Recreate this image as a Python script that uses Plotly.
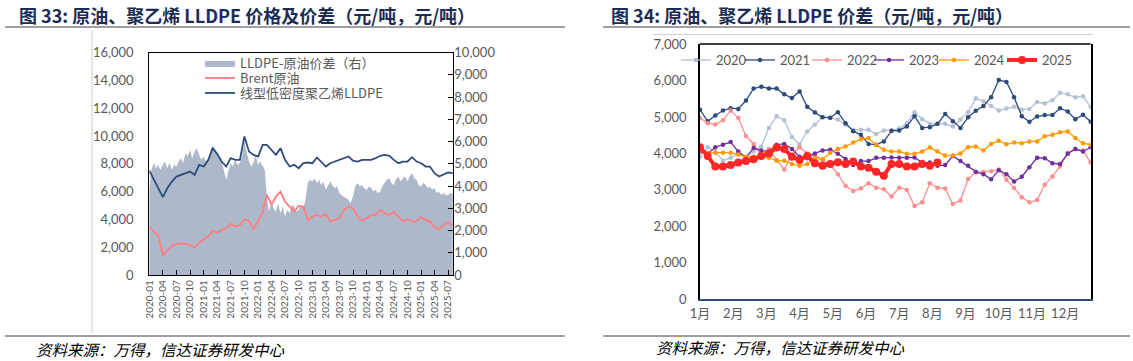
import pandas as pd
import plotly.graph_objects as go

# ---------------- Left chart data ----------------
# monthly price lines, 2020-01 .. 2025-08
months = pd.date_range("2020-01-01", "2025-08-01", freq="MS").strftime("%Y-%m-%d").tolist()

lldpe = [7500, 6840, 6300, 5600, 6240, 6720, 7080, 7200, 7320, 7440, 7200, 7920,
         7800, 8280, 9120, 8710, 8160, 7800, 8400, 8280, 8280, 9960, 8880, 8640,
         8520, 9360, 9360, 9000, 8640, 9120, 8280, 7800, 7920, 7680, 8040, 8090,
         8040, 8450, 8160, 7800, 8040, 8160, 8280, 8400, 8520, 8230, 8160, 8280,
         8280, 8280, 8400, 8570, 8640, 8570, 8280, 8040, 8160, 8160, 8470, 8160,
         8040, 7800, 7800, 7320, 7080, 7200, 7370, 7320]

brent = [3480, 3120, 2880, 1400, 1800, 2090, 2230, 2280, 2280, 2160, 1990, 2280,
         2570, 2760, 3170, 3050, 3240, 3360, 3670, 3480, 3600, 4010, 3910, 3290,
         3840, 4490, 5760, 5040, 5640, 6000, 5280, 4920, 4560, 4970, 4920, 3960,
         4200, 4320, 4200, 4370, 3840, 3960, 4080, 4680, 4920, 4800, 4200, 3910,
         4080, 4320, 4320, 4680, 4440, 4320, 4560, 4200, 3840, 4010, 3840, 3890,
         4150, 3960, 3840, 3430, 3290, 3600, 3840, 3530]

# half-monthly spread (1st and 15th of each month), 2020-01-01 .. 2025-08-01
half_months = sorted(
    [d for d in pd.date_range("2020-01-01", "2025-08-01", freq="MS")] +
    [d + pd.Timedelta(days=14) for d in pd.date_range("2020-01-01", "2025-07-01", freq="MS")])
half_months = [d.strftime("%Y-%m-%d") for d in half_months]

spread = [3830, 4730, 5030, 4800, 4950, 4730, 4950, 5100, 4800, 5030, 4730, 4950,
          4880, 5100, 5250, 5030, 5480, 5330, 5630, 5250, 5550, 5700, 5400, 5180,
          5330, 5100, 5250, 5550, 5850, 5700, 5400, 5330, 5100, 4730, 4280, 4650,
          5030, 4880, 5180, 4950, 5030, 5330, 6000, 5550, 5100, 4880, 5030, 5400,
          4950, 5100, 4880, 4730, 3530, 2850, 3300, 3000, 2850, 3230, 2780, 3080,
          2630, 2930, 2780, 3150, 3080, 2850, 2930, 3150, 3000, 3380, 4130, 4280,
          4200, 4350, 4130, 4280, 4050, 4200, 3830, 3980, 4200, 4050, 3900, 3980,
          3680, 3600, 3530, 3450, 3380, 3230, 3530, 3980, 4130, 3980, 4050, 3900,
          3830, 3980, 3900, 3750, 3830, 3680, 3750, 3980, 4130, 4280, 4350, 4130,
          4050, 4280, 4430, 4200, 4350, 4430, 4200, 4430, 4580, 4350, 4280, 4050,
          3980, 4130, 4050, 3900, 3980, 3830, 3900, 3680, 3750, 3600, 3680, 3600,
          3600, 3680, 3650]

# ---------------- Right chart data (weekly index within year) ----------------
month_labels = ["1月", "2月", "3月", "4月", "5月", "6月", "7月", "8月", "9月", "10月", "11月", "12月"]
weeks_per_year = 52

y2020 = [3910, 4170, 4050, 3800, 3880, 4000, 3910, 4050, 4190, 4700, 5020, 4910, 4450,
         4250, 4600, 4790, 5000, 4980, 4930, 4790, 4650, 4650, 4650, 4530, 4630, 4630,
         4680, 4830, 5130, 4940, 4810, 4810, 4810, 4740, 4930, 5130, 5510, 5430, 5300,
         5180, 5230, 5280, 5200, 5220, 5410, 5370, 5460, 5660, 5620, 5540, 5570, 5270]
y2021 = [5200, 4880, 5040, 5175, 5240, 5220, 5450, 5780, 5830, 5780, 5780, 5620, 5520,
         5700, 5280, 5120, 4990, 4980, 5130, 4830, 4610, 4510, 4260, 4240, 4330, 4620,
         4630, 4740, 5020, 4700, 4720, 4810, 5080, 4880, 4700, 4990, 5170, 5300, 5540,
         6010, 5960, 5540, 5020, 4870, 5010, 5050, 5050, 5240, 5150, 4940, 5060, 4870]
y2022 = [4970, 4830, 4790, 4910, 5180, 4970, 4480, 4260, 3910, 4120, 3820, 3560, 3970,
         4170, 4000, 3960, 3820, 3680, 3430, 3110, 2970, 3040, 3180, 3060, 3020, 2820,
         3060, 3000, 2560, 2660, 3180, 3060, 3040, 2610, 2710, 3300, 3480, 3500, 3510,
         3560, 3280, 3050, 2800, 2660, 2720, 3140, 3370, 3640, 4020, 4120, 4080, 3750]
y2023 = [4050, 4000, 4170, 4240, 4310, 4050, 3890, 4150, 4080, 4050, 4240, 4260, 4120,
         3910, 3870, 4000, 4080, 4100, 3990, 3850, 3680, 3790, 3790, 3880, 3880, 3890,
         3880, 3880, 3890, 3750, 3750, 3660, 3680, 3930, 3790, 3660, 3500, 3430, 3290,
         3540, 3430, 3230, 3360, 3620, 3880, 3870, 3730, 3710, 3990, 4120, 4050, 4170]
y2024 = [4080, 4020, 4020, 4020, 4020, 3970, 3910, 3910, 3910, 3880, 3800, 3800, 3710,
         3660, 3710, 3870, 3840, 4020, 4120, 4190, 4300, 4390, 4420, 4240, 4100, 4050,
         4050, 3990, 3990, 4050, 4160, 4050, 3940, 3940, 4000, 4170, 4190, 4080, 4260,
         4350, 4250, 4300, 4280, 4330, 4330, 4470, 4510, 4580, 4600, 4420, 4280, 4240]
y2025 = [4170, 3930, 3640, 3640, 3680, 3750, 3790, 3840, 3930, 4000, 4160, 4120, 3910,
         3820, 3930, 3730, 3660, 3710, 3760, 3710, 3780, 3640, 3610, 3500, 3390, 3710,
         3710, 3640, 3640, 3710, 3660, 3750]

years = ["2020", "2021", "2022", "2023", "2024", "2025"]
year_values = [y2020, y2021, y2022, y2023, y2024, y2025]
year_colors = ["#b4c0d3", "#2f4b7c", "#ff8f8f", "#7030a0", "#ff9900", "#ff2626"]

# ---------------- Figure ----------------
W, H = 1133, 361
def px(x):
    return x / W
def py(y):
    return (H - y) / H

FONT = "Lato, 'Noto Sans CJK SC', sans-serif"
CJK = "'Noto Sans CJK SC', sans-serif"
GREY = "#595959"
NAVY_T = "#1c2d55"

fig = go.Figure()

fig.add_trace(go.Scatter(x=half_months, y=spread, name="LLDPE-原油价差（右）", mode="lines",
                         line=dict(width=0, color="#adb9ca"), fill="tozeroy",
                         fillcolor="#adb9ca", xaxis="x", yaxis="y", legend="legend"))
fig.add_trace(go.Scatter(x=months, y=brent, name="Brent原油", mode="lines",
                         line=dict(width=1.8, color="#ff7c80"), xaxis="x", yaxis="y2",
                         legend="legend3"))
fig.add_trace(go.Scatter(x=months, y=lldpe, name="线型低密度聚乙烯LLDPE", mode="lines",
                         line=dict(width=1.8, color="#2f4b7c"), xaxis="x", yaxis="y2",
                         legend="legend4"))

year_legends = ["legend2", "legend5", "legend6", "legend7", "legend8", "legend9"]
for yr, vals, col, lg in zip(years, year_values, year_colors, year_legends):
    big = yr == "2025"
    fig.add_trace(go.Scatter(x=list(range(len(vals))), y=vals, name=yr, mode="lines+markers",
                             line=dict(width=4 if big else 1.3, color=col),
                             marker=dict(size=8 if big else 4.5, color=col),
                             xaxis="x2", yaxis="y3", legend=lg))

month_pos = [i * weeks_per_year / 12 for i in range(12)]

def leg(x, y, size=13, family=CJK, **kw):
    d = dict(x=px(x), y=py(y), xref="container", yref="container", xanchor="left",
             yanchor="top", bgcolor="rgba(0,0,0,0)", borderwidth=0,
             font=dict(family=family, size=size, color=GREY), itemwidth=30)
    d.update(kw)
    return d

legend_layout = dict(
    legend=leg(200, 48),
    legend3=leg(200, 63),
    legend4=leg(200, 78),
)
for lg, lx in zip(year_legends, [676, 740, 807, 869, 934, 1002]):
    legend_layout[lg] = leg(lx, 45, size=13, family=FONT)

fig.update_layout(
    width=W, height=H, margin=dict(l=0, r=0, t=0, b=0, autoexpand=False),
    paper_bgcolor="white", plot_bgcolor="white",
    font=dict(family=FONT, size=12, color=GREY),
    showlegend=True,
    xaxis=dict(domain=[px(149.3), px(453.3)], range=["2020-01-01", "2025-08-05"], type="date",
               tickformat="%Y-%m", dtick="M3", tick0="2020-01-01", tickangle=-90,
               ticks="inside", ticklen=5, tickcolor="black", showline=True, linecolor="black",
               linewidth=1.2, mirror=True, showgrid=False, zeroline=False, automargin=False,
               tickfont=dict(size=10, color=GREY), anchor="y"),
    yaxis=dict(domain=[py(275), py(52.5)], range=[0, 10000], dtick=1000, tickformat=",",
               side="right", anchor="x", showgrid=False, zeroline=False, ticks="inside",
               ticklen=5, tickcolor="black", showline=False, automargin=False,
               tickfont=dict(size=13, color=GREY)),
    yaxis2=dict(range=[0, 16000], dtick=2000, tickformat=",", overlaying="y", side="left",
                anchor="x", showgrid=False, zeroline=False, showline=True, linecolor="black",
                linewidth=1.2, mirror=True, ticks="", automargin=False,
                tickfont=dict(size=13, color=GREY), ticklabelstandoff=12),
    xaxis2=dict(domain=[px(700), px(1090.7)], range=[0, 51], tickvals=month_pos,
                ticktext=month_labels, showgrid=False, zeroline=False, showline=True,
                linecolor="#2f4b7c", linewidth=2, ticks="", anchor="y3", automargin=False,
                tickfont=dict(size=13, color=GREY), ticklabelstandoff=1),
    yaxis3=dict(domain=[py(299.3), py(44)], range=[0, 7000], dtick=1000, tickformat=",",
                showgrid=False, zeroline=False, showline=True, linecolor="black", linewidth=1.5,
                mirror=True, ticks="", anchor="x2", automargin=False,
                tickfont=dict(size=13, color=GREY), ticklabelstandoff=9),
    **legend_layout,
)

shapes = [
    dict(type="line", xref="paper", yref="paper", x0=px(700), x1=px(1090.7), y0=py(44), y1=py(44),
         line=dict(color="black", width=1.5)),
    dict(type="line", xref="paper", yref="paper", x0=px(5), x1=px(565), y0=py(27), y1=py(27),
         line=dict(color="#404040", width=1)),
    dict(type="line", xref="paper", yref="paper", x0=px(603), x1=px(1130), y0=py(27), y1=py(27),
         line=dict(color="#404040", width=1)),
    dict(type="line", xref="paper", yref="paper", x0=px(5), x1=px(565), y0=py(336), y1=py(336),
         line=dict(color="#404040", width=1)),
    dict(type="line", xref="paper", yref="paper", x0=px(603), x1=px(1130), y0=py(336), y1=py(336),
         line=dict(color="#404040", width=1)),
    dict(type="line", xref="paper", yref="paper", x0=px(92), x1=px(92), y0=py(30), y1=py(333),
         line=dict(color="#d0d0d0", width=1)),
    dict(type="line", xref="paper", yref="paper", x0=px(653), x1=px(1093), y0=py(34.5), y1=py(34.5),
         line=dict(color="#d0d0d0", width=1)),
]
fig.update_layout(shapes=shapes)

annotations = [
    dict(text="<b>图 33: 原油、聚乙烯 LLDPE 价格及价差（元/吨，元/吨）</b>", x=px(17), y=py(15),
         xref="paper", yref="paper", xanchor="left", yanchor="middle", showarrow=False,
         font=dict(family=CJK, size=18, color=NAVY_T)),
    dict(text="<b>图 34: 原油、聚乙烯 LLDPE 价差（元/吨，元/吨）</b>", x=px(609), y=py(15),
         xref="paper", yref="paper", xanchor="left", yanchor="middle", showarrow=False,
         font=dict(family=CJK, size=18, color=NAVY_T)),
    dict(text="资料来源：万得，信达证券研发中心", x=px(34), y=py(349), xref="paper", yref="paper",
         xanchor="left", yanchor="middle", showarrow=False,
         font=dict(family=CJK, size=15.5, color="black", style="italic")),
    dict(text="资料来源：万得，信达证券研发中心", x=px(654), y=py(347), xref="paper", yref="paper",
         xanchor="left", yanchor="middle", showarrow=False,
         font=dict(family=CJK, size=15.5, color="black", style="italic")),
]
fig.update_layout(annotations=annotations)

fig.write_html("out.html", config={"displayModeBar": False},
               post_script="document.body.style.margin='0px';")
